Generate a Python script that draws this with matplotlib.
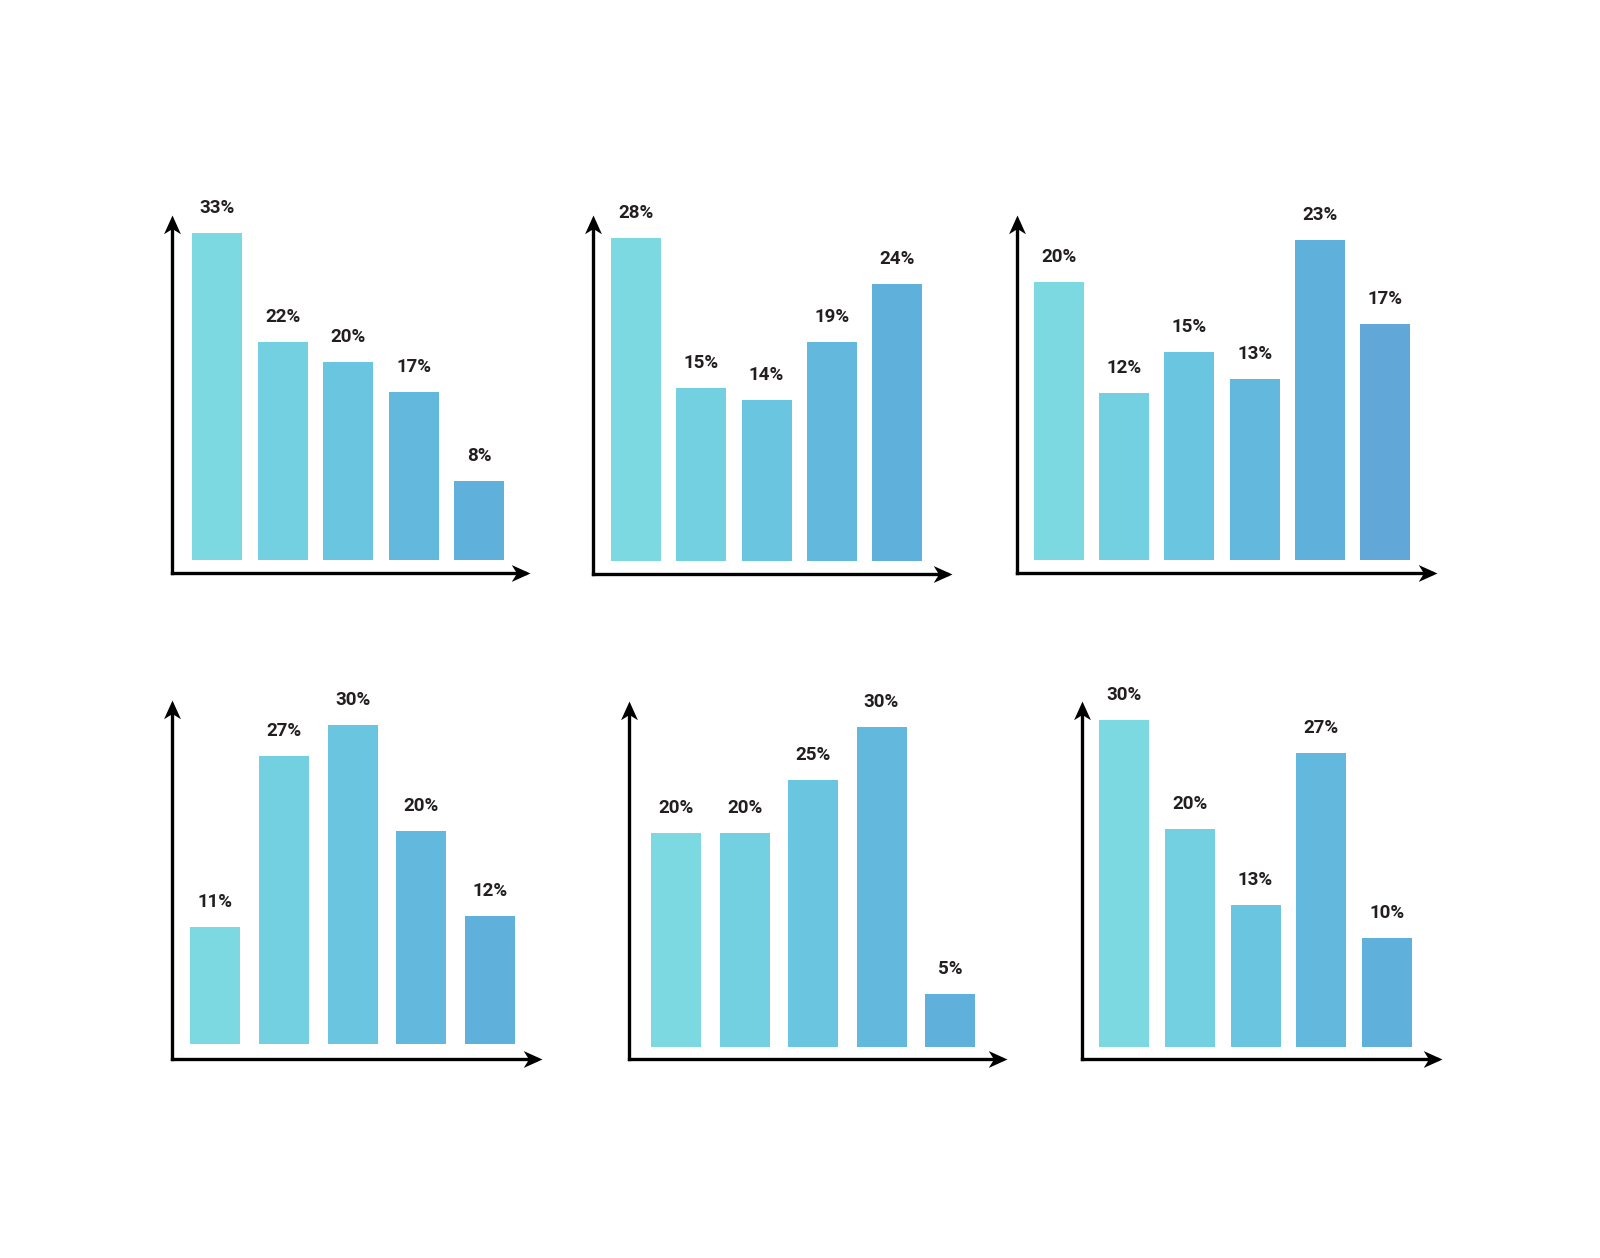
import numpy as np
import matplotlib.pyplot as plt
from matplotlib.path import Path

plt.rcParams['font.family'] = ['Roboto', 'DejaVu Sans']

# values for the six small charts (percent)
chart1 = [33, 22, 20, 17, 8]
chart2 = [28, 15, 14, 19, 24]
chart3 = [20, 12, 15, 13, 23, 17]
chart4 = [11, 27, 30, 20, 12]
chart5 = [20, 20, 25, 30, 5]
chart6 = [30, 20, 13, 27, 10]
charts = [chart1, chart2, chart3, chart4, chart5, chart6]

bar_colors = ['#7dd9e1', '#72d0e0', '#69c5e0', '#62b9dd', '#5fb1dc', '#61a7d8']

W, H = 1600, 1258

# layout of each panel in pixels:
# (y-axis x, arrow top y, x-axis y, arrow tip x, first bar left, bar step, bar bottom, px per %)
layout = [
    (172, 215, 573, 530, 192, 65.5, 560, 9.9),
    (593, 215, 574, 952, 611, 65.3, 561, 11.53),
    (1017, 215, 573, 1437, 1034, 65.2, 560, 13.9),
    (172, 700, 1059, 542, 190, 68.75, 1044, 10.65),
    (629, 701, 1059, 1007, 651, 68.5, 1047, 10.68),
    (1082, 701, 1059, 1442, 1099, 65.75, 1047, 10.9),
]
bar_px = 50

# stealth style arrow heads, tip at the origin
head_right = Path([(0, 0), (-1, 0.45), (-0.72, 0), (-1, -0.45), (0, 0)],
                  [Path.MOVETO, Path.LINETO, Path.LINETO, Path.LINETO, Path.CLOSEPOLY])
head_up = Path([(0, 0), (0.45, -1), (0, -0.72), (-0.45, -1), (0, 0)],
               [Path.MOVETO, Path.LINETO, Path.LINETO, Path.LINETO, Path.CLOSEPOLY])

fig = plt.figure(figsize=(W / 100, H / 100), dpi=100)
fig.patch.set_facecolor('white')

for vals, (ax_x, top_y, base_y, tip_x, b0, step, bb, ppp) in zip(charts, layout):
    ax = fig.add_axes([ax_x / W, 1 - base_y / H, (tip_x - ax_x) / W, (base_y - top_y) / H])
    c0 = b0 + bar_px / 2
    ax.set_xlim((ax_x - c0) / step, (tip_x - c0) / step)
    ax.set_ylim(-(base_y - bb) / ppp, (bb - top_y) / ppp)
    x = np.arange(len(vals))
    ax.bar(x, vals, width=bar_px / step, color=bar_colors[:len(vals)], align='center')
    for xi, v in zip(x, vals):
        ax.annotate(f'{v}%', (xi, v), xytext=(0, 18), textcoords='offset points',
                    ha='center', va='center', fontsize=13.5, fontweight='bold',
                    color='#231f20')
    for spine in ax.spines.values():
        spine.set_visible(False)
    ax.set_xticks([])
    ax.set_yticks([])
    tr = ax.transAxes
    ax.plot([0, 0.985], [0, 0], color='black', lw=2.4, transform=tr,
            solid_capstyle='projecting', clip_on=False)
    ax.plot([0, 0], [0, 0.97], color='black', lw=2.4, transform=tr,
            solid_capstyle='projecting', clip_on=False)
    ax.plot([1], [0], marker=head_right, markersize=27, color='black',
            transform=tr, clip_on=False, markeredgewidth=0)
    ax.plot([0], [1], marker=head_up, markersize=27, color='black',
            transform=tr, clip_on=False, markeredgewidth=0)

fig.savefig('out.png', dpi=100, facecolor='white')
